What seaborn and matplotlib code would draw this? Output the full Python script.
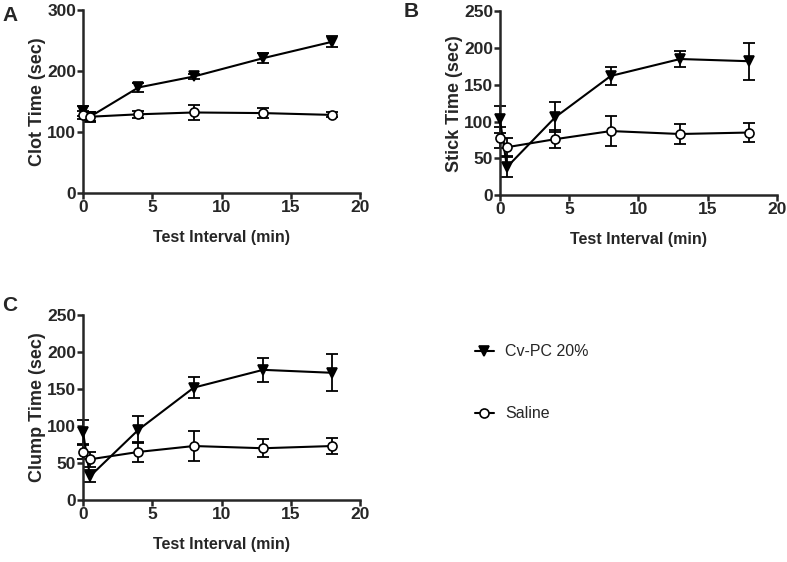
import matplotlib
matplotlib.use('Agg')
import matplotlib.pyplot as plt
import seaborn as sns
import pandas as pd

# tiempos de prueba (min)
test_interval = [0, 0.5, 4, 8, 13, 18]

# A - clot time
clot_cvpc = [135, 125, 173, 191, 221, 248]
clot_cvpc_err = [8, 8, 8, 4, 8, 9]
clot_saline = [128, 125, 129, 132, 131, 128]
clot_saline_err = [6, 7, 6, 12, 8, 4]

# B - stick time
stick_cvpc = [103, 38, 106, 162, 185, 182]
stick_cvpc_err = [18, 14, 20, 12, 11, 25]
stick_saline = [78, 65, 76, 87, 83, 85]
stick_saline_err = [14, 12, 12, 20, 14, 13]

# C - clump time
clump_cvpc = [92, 32, 95, 152, 176, 172]
clump_cvpc_err = [16, 8, 18, 14, 16, 25]
clump_saline = [65, 55, 65, 73, 70, 73]
clump_saline_err = [10, 10, 13, 20, 12, 11]

groups = ['Cv-PC 20%', 'Saline']

sns.set_style('ticks')
plt.rcParams['font.family'] = ['Liberation Sans', 'DejaVu Sans']

fig = plt.figure(figsize=(7.87, 5.62), dpi=100)


def panel(rect, cvpc, cvpc_err, saline, saline_err, ylabel, ymax, ystep, letter, letter_xy):
    ax = fig.add_axes(rect)
    df = pd.DataFrame({
        'x': test_interval * 2,
        'y': cvpc + saline,
        'err': cvpc_err + saline_err,
        'grupo': [groups[0]] * 6 + [groups[1]] * 6,
    })
    for g, mk, fc in [(groups[0], 'v', 'black'), (groups[1], 'o', 'white')]:
        d = df[df['grupo'] == g]
        ax.errorbar(d['x'], d['y'], yerr=d['err'], fmt='none', ecolor='black',
                    elinewidth=1.3, capsize=4, capthick=1.3, zorder=2)
        sns.lineplot(x='x', y='y', data=d, ax=ax, color='black', lw=1.5,
                     marker=mk, markersize=7.5 if mk == 'v' else 6.5,
                     markerfacecolor=fc, markeredgecolor='black', markeredgewidth=1.2,
                     label=g, zorder=3, legend=False)
    ax.set_xlim(0, 20)
    ax.set_ylim(0, ymax)
    ax.set_xticks([0, 5, 10, 15, 20])
    ax.set_yticks(list(range(0, ymax + 1, ystep)))
    ax.set_xlabel('Test Interval (min)', fontsize=11.5, fontweight='bold', labelpad=11)
    ax.set_ylabel(ylabel, fontsize=13, fontweight='bold', labelpad=1)
    for lab in ax.get_xticklabels() + ax.get_yticklabels():
        lab.set_fontweight('bold')
    ax.tick_params(labelsize=12.5, width=1.8, length=4, pad=1)
    for s in ['left', 'bottom']:
        ax.spines[s].set_linewidth(1.8)
    sns.despine(ax=ax)
    for art in ax.lines + ax.collections:
        art.set_clip_on(False)
    fig.text(letter_xy[0], letter_xy[1], letter, fontsize=15, fontweight='bold',
             ha='left', va='center')
    return ax


ax_a = panel([0.1055, 0.6566, 0.352, 0.3256], clot_cvpc, clot_cvpc_err,
             clot_saline, clot_saline_err, 'Clot Time (sec)', 300, 100, 'A', (0.003, 0.973))
ax_b = panel([0.6353, 0.653, 0.352, 0.327], stick_cvpc, stick_cvpc_err,
             stick_saline, stick_saline_err, 'Stick Time (sec)', 250, 50, 'B', (0.513, 0.979))
ax_c = panel([0.1055, 0.1103, 0.352, 0.329], clump_cvpc, clump_cvpc_err,
             clump_saline, clump_saline_err, 'Clump Time (sec)', 250, 50, 'C', (0.003, 0.457))

handles, labels = ax_a.get_legend_handles_labels()
fig.legend(handles[:2], labels[:2], loc='upper left', bbox_to_anchor=(0.585, 0.413),
           frameon=False, fontsize=11.5, labelspacing=2.95, handlelength=1.2, handletextpad=0.7)

fig.savefig('out.png', dpi=100)
